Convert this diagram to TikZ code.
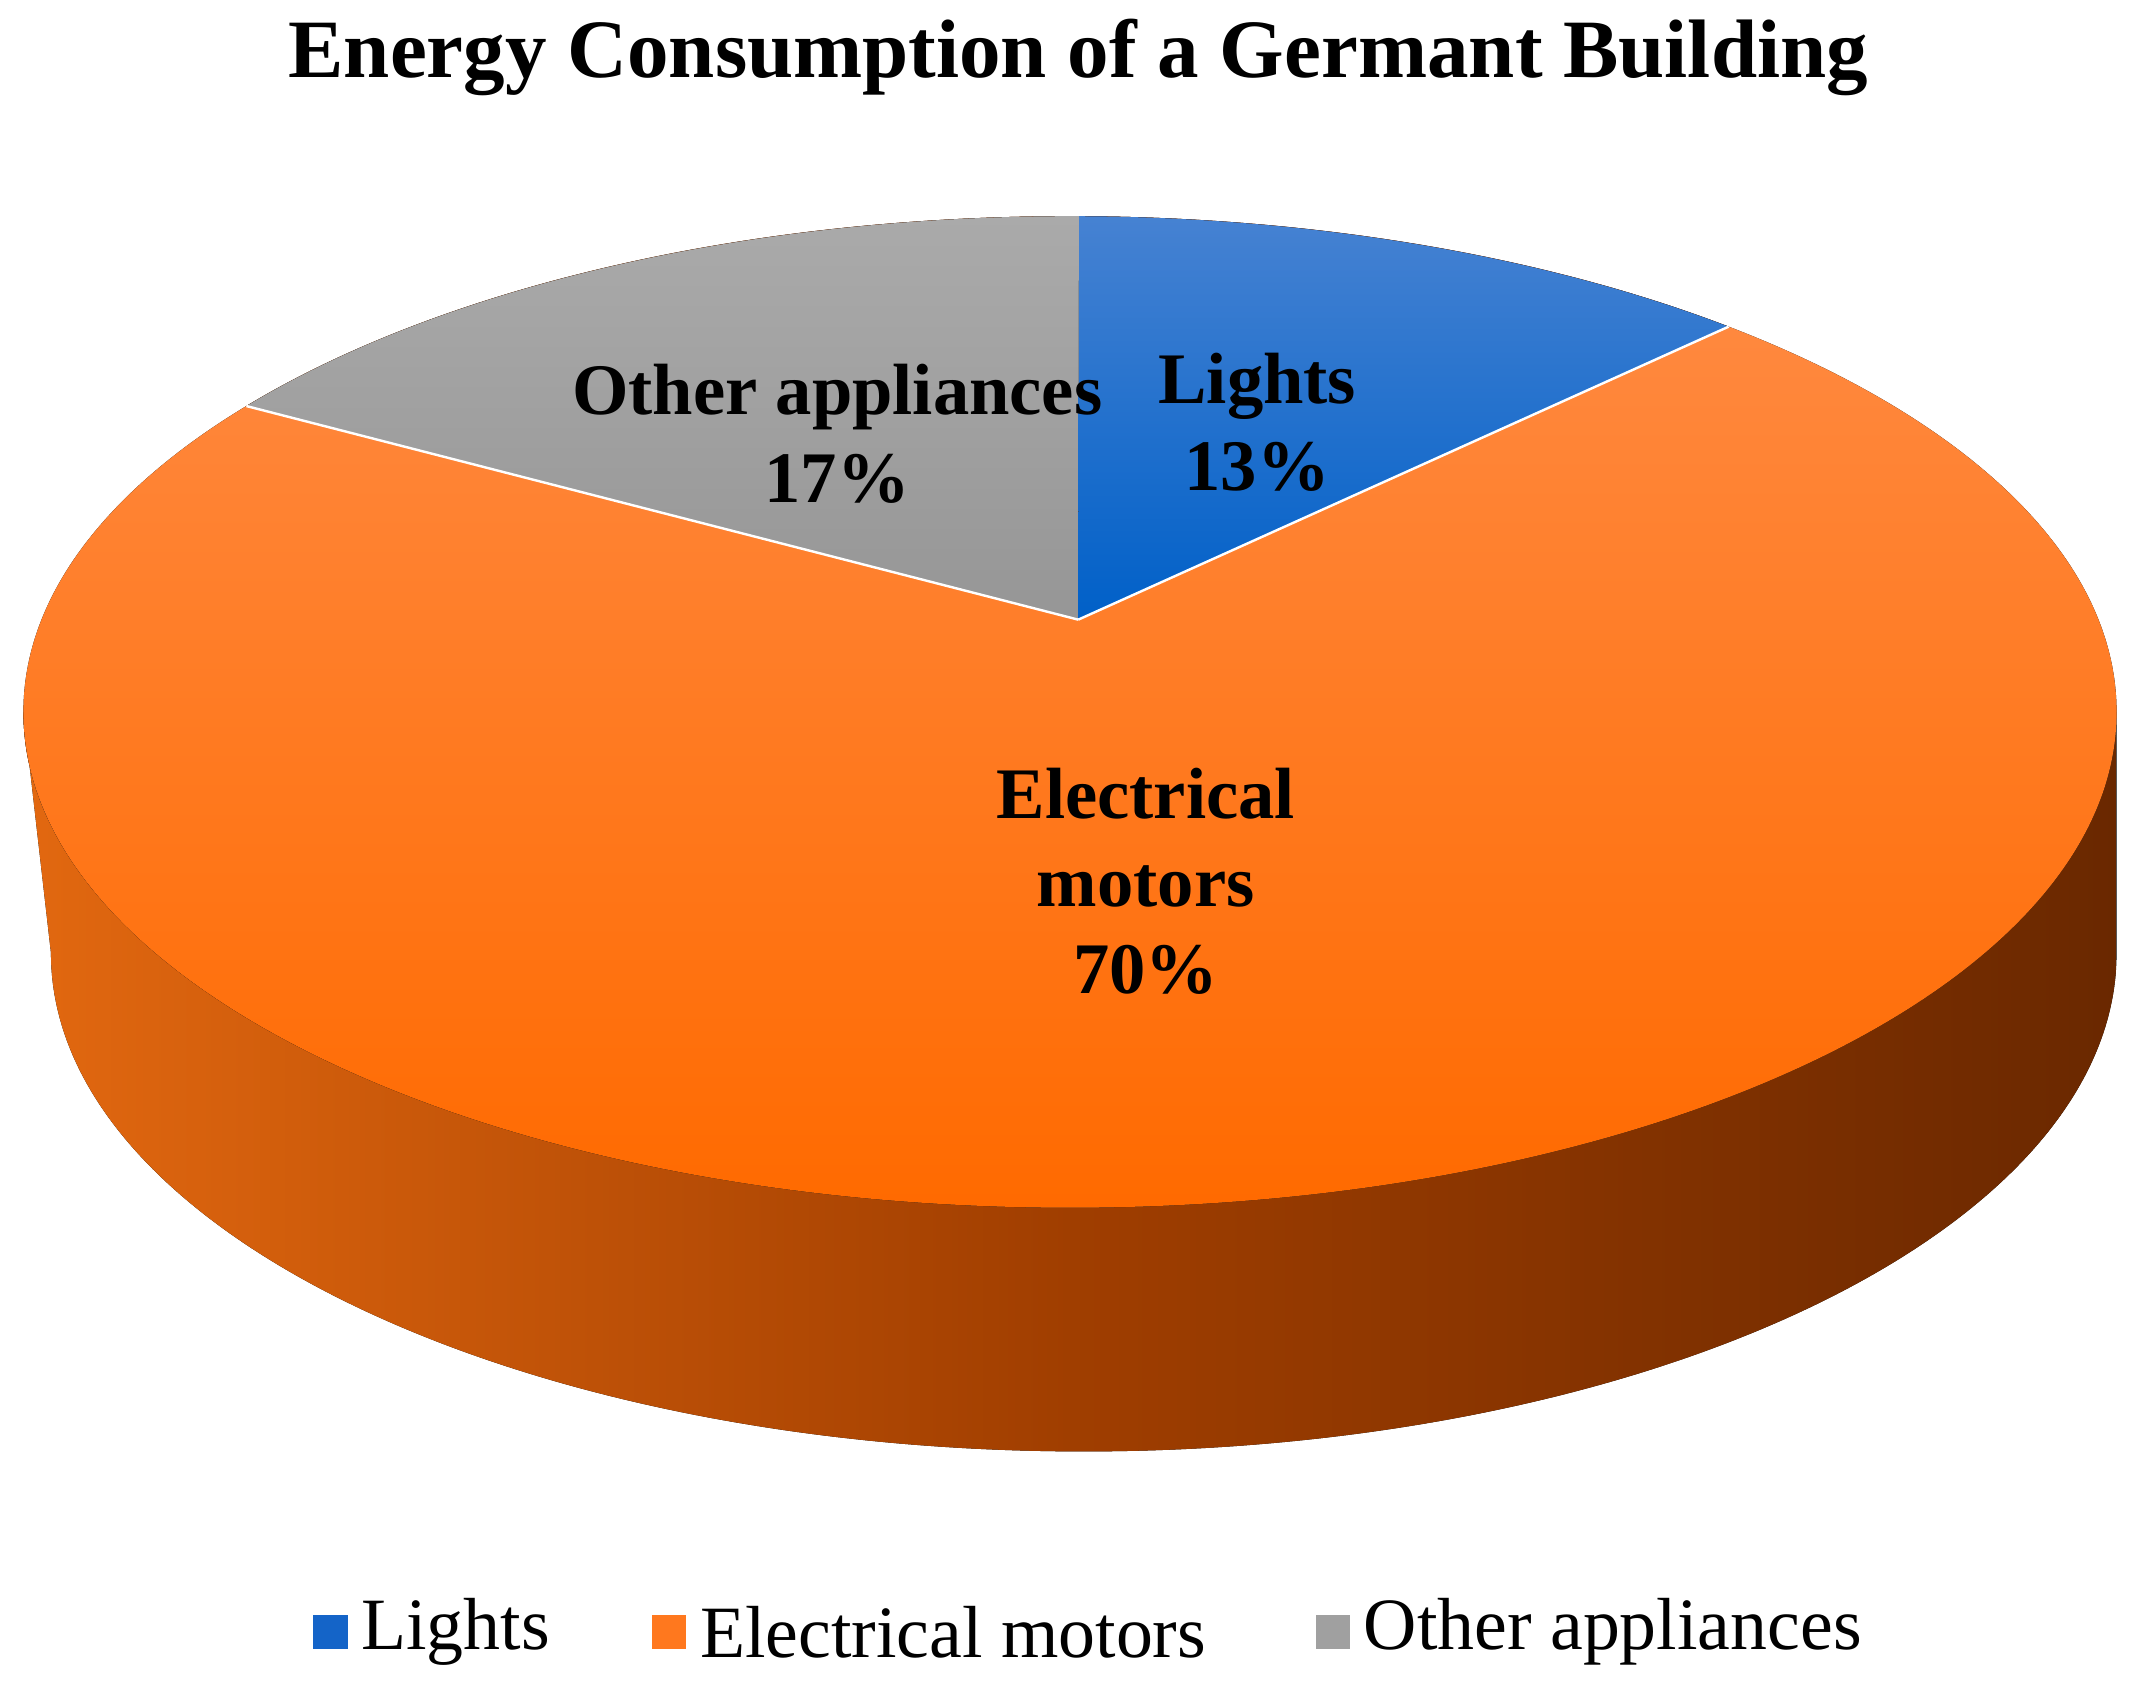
\documentclass[tikz,border=0pt]{standalone}
\usepackage{fontspec}
\setmainfont{Liberation Serif}
\begin{document}
\begin{tikzpicture}[x=0.02cm,y=0.02cm,
  lbl/.style={font=\bfseries\fontsize{30}{36}\selectfont,align=center,text=black},
  leg/.style={font=\fontsize{30.5}{34}\selectfont,anchor=west,inner sep=0pt},
  sq/.style={minimum size=0.5cm,inner sep=0pt}]
\useasboundingbox (0,0) rectangle (1562,1240);
% side
\fill[left color={rgb,255:red,226;green,104;blue,16}, right color={rgb,255:red,106;green,40;blue,0}, middle color={rgb,255:red,160;green,62;blue,0}]
  (17,723) arc[start angle=180,end angle=360,x radius=760,y radius=360]
  -- (1537,548) arc[start angle=0,end angle=-180,x radius=750,y radius=362] -- cycle;
% top
\fill[top color={rgb,255:red,255;green,140;blue,70}, bottom color={rgb,255:red,255;green,106;blue,0}]
  (777,723) ellipse[x radius=760,y radius=360];
\coordinate (apex) at (783,790);
\fill[top color={rgb,255:red,170;green,170;blue,170}, bottom color={rgb,255:red,150;green,150;blue,150}]
  (apex) -- ({777+760*cos(141.9)},{723+360*sin(141.9)})
  arc[start angle=141.9,end angle=89.5,x radius=760,y radius=360] -- cycle;
\fill[top color={rgb,255:red,70;green,130;blue,210}, bottom color={rgb,255:red,0;green,96;blue,200}]
  (apex) -- ({777+760*cos(89.5)},{723+360*sin(89.5)})
  arc[start angle=89.5,end angle=51,x radius=760,y radius=360] -- cycle;
\draw[white,line width=1pt] (apex) -- ({777+760*cos(141.9)},{723+360*sin(141.9)});
\draw[white,line width=1pt] (apex) -- ({777+760*cos(51)},{723+360*sin(51)});
% labels
\node[font=\bfseries\fontsize{34.3}{40}\selectfont] (title) at (783,1198) {Energy Consumption of a Germant Building};
\node[lbl] (lo) at (608,925) {Other appliances\\17\%};
\node[lbl] (ll) at (913,933) {Lights\\13\%};
\node[lbl] (le) at (832,600) {Electrical\\motors\\70\%};
% legend
\node[sq,fill={rgb,255:red,20;green,100;blue,200}] (s1) at (240,55) {};
\node[leg] (t1) at (262,55) {Lights};
\node[sq,fill={rgb,255:red,255;green,120;blue,30}] (s2) at (486,55) {};
\node[leg] (t2) at (508,55) {Electrical motors};
\node[sq,fill={rgb,255:red,160;green,160;blue,160}] (s3) at (968,55) {};
\node[leg] (t3) at (990,55) {Other appliances};
\end{tikzpicture}
\end{document}
